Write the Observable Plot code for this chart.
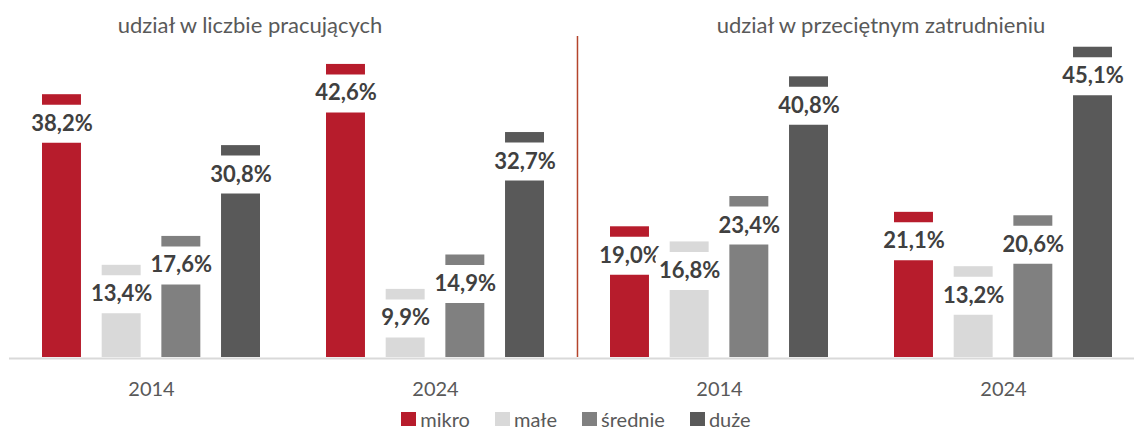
<!DOCTYPE html>
<html>
<head>
<meta charset="utf-8">
<script src="https://cdn.jsdelivr.net/npm/d3@7"></script>
<script src="https://cdn.jsdelivr.net/npm/@observablehq/plot@0.6"></script>
<style>
  html, body { margin: 0; padding: 0; background: #fff; }
  body { width: 1134px; height: 432px; overflow: hidden; font-family: Lato, "Open Sans", sans-serif; }
  #wrap { position: relative; width: 1134px; height: 432px; overflow: hidden; }
  #header { position: relative; height: 36px; }
  .ptitle { position: absolute; top: 13.5px; font-size: 22px; line-height: 22px; color: #595959; white-space: nowrap; transform: translateX(-50%); }
  #chart { width: 1134px; height: 370px; overflow: hidden; }
  #chart svg { max-width: none; }
  #legend { display: flex; justify-content: center; align-items: center; height: 26px; box-sizing: border-box; padding-left: 18px; gap: 25px; font-size: 20px; line-height: 20px; color: #595959; }
  .item { display: flex; align-items: center; }
  .sw { width: 15px; height: 14px; margin-right: 4px; }
</style>
</head>
<body>
<div id="wrap">
  <div id="header"></div>
  <div id="chart"></div>
  <div id="legend"></div>
</div>
<script>
// ---- data ----
const categories = ["mikro", "małe", "średnie", "duże"];
const colors = ["#b71c2c", "#d9d9d9", "#808080", "#595959"];
const years = ["2014", "2024"];
const panelTitles = ["udział w liczbie pracujących", "udział w przeciętnym zatrudnieniu"];
const pracujacy2014 = [38.2, 13.4, 17.6, 30.8];
const pracujacy2024 = [42.6, 9.9, 14.9, 32.7];
const zatrudnienie2014 = [19.0, 16.8, 23.4, 40.8];
const zatrudnienie2024 = [21.1, 13.2, 20.6, 45.1];

const series = [
  {panel: 0, year: years[0], values: pracujacy2014},
  {panel: 0, year: years[1], values: pracujacy2024},
  {panel: 1, year: years[0], values: zatrudnienie2014},
  {panel: 1, year: years[1], values: zatrudnienie2024}
];
const groupKeys = series.map(s => `${s.panel}-${s.year}`);
const groups = series.map(s => ({key: `${s.panel}-${s.year}`, year: s.year}));
const rows = series.flatMap(s => categories.map((c, i) => ({
  group: `${s.panel}-${s.year}`, year: s.year, cat: c, value: s.values[i]
})));

const fmt = v => v.toFixed(1).replace(".", ",") + "%";

// ---- header titles ----
const header = document.getElementById("header");
const titleCenters = [250, 881];
panelTitles.forEach((t, i) => {
  const d = document.createElement("div");
  d.className = "ptitle";
  d.style.left = titleCenters[i] + "px";
  d.textContent = t;
  header.appendChild(d);
});

// ---- chart ----
const pIn = 0.347, pOut = 0.553;
const labelDy = 29;

const labelMarks = categories.flatMap(cat => {
  const sub = rows.filter(r => r.cat === cat);
  return [
    Plot.tickY(sub, {fx: "group", x: "cat", y: "value", stroke: "white", strokeWidth: 38,
      dy: labelDy, insetLeft: -14, insetRight: -14}),
    Plot.text(sub, {fx: "group", x: "cat", y: "value", text: d => fmt(d.value), dy: labelDy,
      lineAnchor: "middle", fill: "#404040", fontSize: 22, fontWeight: "bold",
      fontFamily: "Lato, 'Open Sans', sans-serif"})
  ];
});

const chart = Plot.plot({
  width: 1145,
  height: 370,
  marginTop: 0,
  marginBottom: 49,
  marginLeft: 9,
  marginRight: 0,
  style: {fontFamily: "Lato, 'Open Sans', sans-serif", background: "white", maxWidth: "none"},
  fx: {domain: groupKeys, padding: 0, round: false, axis: null},
  x: {domain: categories, paddingInner: pIn, paddingOuter: pOut, round: false, axis: null},
  y: {domain: [0, 46.66], axis: null},
  color: {domain: categories, range: colors},
  marks: [
    Plot.barY(rows, {fx: "group", x: "cat", y: "value", fill: "cat"}),
    Plot.ruleY([0], {stroke: "#d9d9d9", strokeWidth: 2, dy: 1}),
    Plot.ruleX([groupKeys[2]], {fx: d => d, x: () => categories[0], dx: -52.5, stroke: "#b4442c", strokeWidth: 1.5}),
    ...labelMarks,
    Plot.text(groups, {fx: "key", text: "year", frameAnchor: "bottom", dy: 32, lineAnchor: "middle",
      fill: "#595959", fontSize: 20})
  ]
});
document.getElementById("chart").appendChild(chart);

// ---- legend ----
const legend = document.getElementById("legend");
categories.forEach((c, i) => {
  const it = document.createElement("div");
  it.className = "item";
  const sw = document.createElement("div");
  sw.className = "sw";
  sw.style.background = colors[i];
  const tx = document.createElement("span");
  tx.textContent = c;
  it.appendChild(sw); it.appendChild(tx);
  legend.appendChild(it);
});
</script>
</body>
</html>
